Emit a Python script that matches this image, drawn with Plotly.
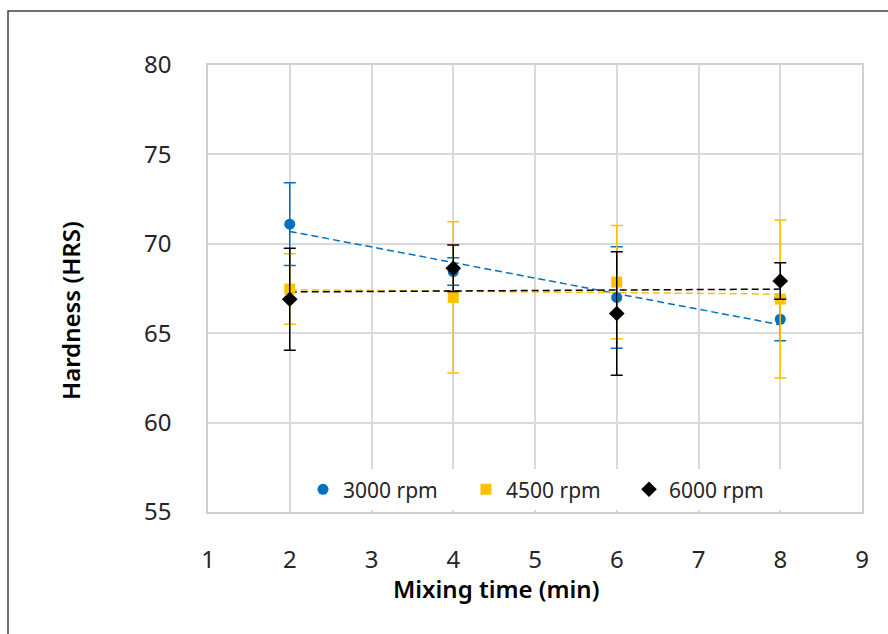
import numpy as np
import plotly.graph_objects as go

x_time = [2, 4, 6, 8]
y_3000 = [71.1, 68.45, 67.0, 65.78]
e_3000 = [2.32, 0.77, 2.84, 1.2]
y_4500 = [67.47, 67.0, 67.86, 66.91]
e_4500 = [1.97, 4.23, 3.17, 4.42]
y_6000 = [66.9, 68.63, 66.1, 67.92]
e_6000 = [2.85, 1.3, 3.45, 1.02]

series = [
    ("3000 rpm", y_3000, e_3000, "#0070C0", "circle", 11),
    ("4500 rpm", y_4500, e_4500, "#FFC000", "square", 11),
    ("6000 rpm", y_6000, e_6000, "#000000", "diamond", 12),
]

FONT = "Noto Sans"
fig = go.Figure()

# trendlines
for name, ys, es, col, sym, sz in series:
    k, b = np.polyfit(x_time, ys, 1)
    xt = [min(x_time), max(x_time)]
    fig.add_trace(go.Scatter(x=xt, y=[k * v + b for v in xt], mode="lines",
                             line=dict(color=col, width=1.5, dash="7px,4px"),
                             showlegend=False, hoverinfo="skip"))

for name, ys, es, col, sym, sz in series:
    fig.add_trace(go.Scatter(
        x=x_time, y=ys, mode="markers", name=name,
        marker=dict(color=col, symbol=sym, size=sz, line=dict(width=0)),
        error_y=dict(type="data", array=es, visible=True, color=col,
                     thickness=1.5, width=6),
    ))

fig.update_layout(
    width=888, height=634,
    margin=dict(l=208, r=26, t=65, b=122),
    paper_bgcolor="white", plot_bgcolor="white",
    font=dict(family=FONT, color="#000000"),
    legend=dict(orientation="h", x=(303 - 208) / 654, y=0.05, xanchor="left", yanchor="middle",
                bgcolor="white", font=dict(size=21, family=FONT, color="#262626"),
                entrywidth=118, itemwidth=30),
    shapes=[dict(type="rect", xref="paper", yref="paper",
                 x0=(8 - 208) / 654, x1=1.2, y0=-0.4, y1=1 + (65 - 11) / 447,
                 line=dict(color="#404040", width=1.5), layer="below")],
    annotations=[
        dict(text="Mixing time (min)", xref="paper", yref="paper",
             x=(496 - 208) / 654, y=-(588 - 512) / 447, xanchor="center", yanchor="middle",
             showarrow=False, font=dict(size=24, family=FONT, weight=600, color="#000000")),
        dict(text="Hardness (HRS)", xref="paper", yref="paper", textangle=-90,
             x=-(208 - 70) / 654, y=(512 - 311) / 447, xanchor="center", yanchor="middle",
             showarrow=False, font=dict(size=24, family=FONT, weight=600, color="#000000")),
    ],
)

fig.update_xaxes(
    range=[1, 9], dtick=1, tick0=1,
    showgrid=True, gridcolor="#d9d9d9", gridwidth=1.5,
    showline=True, linecolor="#d0d0d0", linewidth=1.5, mirror=True,
    ticks="outside", ticklen=25, tickcolor="rgba(0,0,0,0)",
    tickfont=dict(size=24, family=FONT, color="#262626"),
    zeroline=False,
)
fig.update_yaxes(
    range=[55, 80], dtick=5,
    showgrid=True, gridcolor="#d9d9d9", gridwidth=1.5,
    showline=True, linecolor="#d0d0d0", linewidth=1.5, mirror=True,
    ticks="outside", ticklen=30, tickcolor="rgba(0,0,0,0)",
    tickfont=dict(size=24, family=FONT, color="#262626"),
    zeroline=False,
)

fig.write_html("out.html")
